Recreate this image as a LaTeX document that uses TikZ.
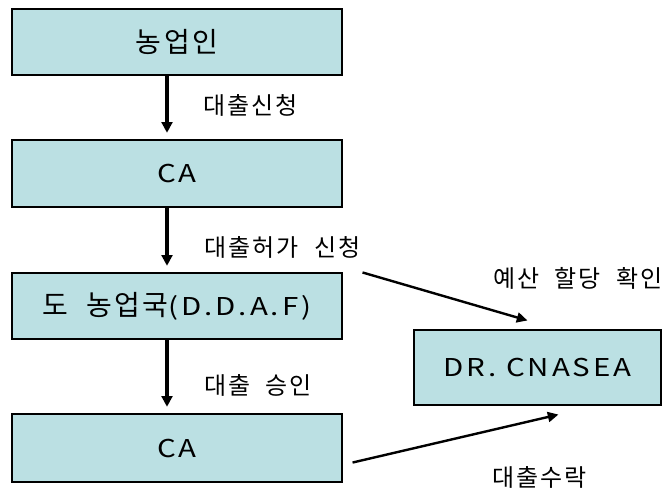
\documentclass[tikz,border=0pt]{standalone}
\usepackage{fontspec}
\setmainfont{Noto Sans CJK KR}
\newfontfamily\hanbox{Noto Sans CJK KR}[LetterSpace=9,WordSpace=1.6]
\newfontfamily\latbox{Noto Sans CJK KR}[FakeStretch=1.2,LetterSpace=12]
\newfontfamily\hanlbl{Noto Sans CJK KR}[LetterSpace=9,WordSpace=2]
\newcommand\LT[1]{{\fontsize{18.4}{22}\latbox #1}}
\newcommand\HB[1]{{\fontsize{21}{24}\hanbox #1}}
\usetikzlibrary{calc,arrows.meta}
\definecolor{boxfill}{RGB}{187,224,227}
\tikzset{
  box/.style={draw=black, line width=0.8pt, fill=boxfill, rectangle, inner sep=0pt},
  lbl/.style={anchor=west, inner sep=0pt, font=\fontsize{18}{21}\hanlbl},
  arr/.style={line width=2.3pt, -{Triangle[length=8pt,width=8pt]}},
  darr/.style={line width=1.8pt, -{Triangle[length=8pt,width=7.5pt]}}
}
\begin{document}
\begin{tikzpicture}[x=0.75pt,y=-0.75pt]
\useasboundingbox (0,0) rectangle (668,487);
\node[box, minimum width={330*0.75pt}, minimum height={66*0.75pt}] (b1) at (177,42) {\HB{농업인}};
\node[box, minimum width={330*0.75pt}, minimum height={67*0.75pt}] (b2) at (177,173.5) {\LT{CA}};
\node[box, minimum width={330*0.75pt}, minimum height={66*0.75pt}] (b3) at (177,306) {\HB{도 농업국}\LT{(D.D.A.F)}};
\node[box, minimum width={330*0.75pt}, minimum height={68*0.75pt}] (b4) at (177,448) {\LT{CA}};
\node[box, minimum width={247*0.75pt}, minimum height={75*0.75pt}] (dr) at (537.5,367.5) {\LT{DR. CNASEA}};
\coordinate (ax) at (167,0);
\draw[arr, shorten >=5pt] (b1.south -| ax) -- (b2.north -| ax);
\draw[arr, shorten >=5pt] (b2.south -| ax) -- (b3.north -| ax);
\draw[arr, shorten >=5pt] (b3.south -| ax) -- (b4.north -| ax);
\draw[darr] ($(b3.north east)+(20,0)$) -- ($(dr.north west)+(114,-9)$);
\draw[darr] ($(b4.south east)+(10,-20)$) -- ($(dr.south west)+(145,9)$);
\node[lbl] (l1) at (203,105) {대출신청};
\node[lbl] (l2) at (204,247) {대출허가 신청};
\node[lbl] (l3) at (204,385) {대출 승인};
\node[lbl] (l4) at (493,278) {예산 할당 확인};
\node[lbl] (l5) at (492,477) {대출수락};
\end{tikzpicture}
\end{document}
